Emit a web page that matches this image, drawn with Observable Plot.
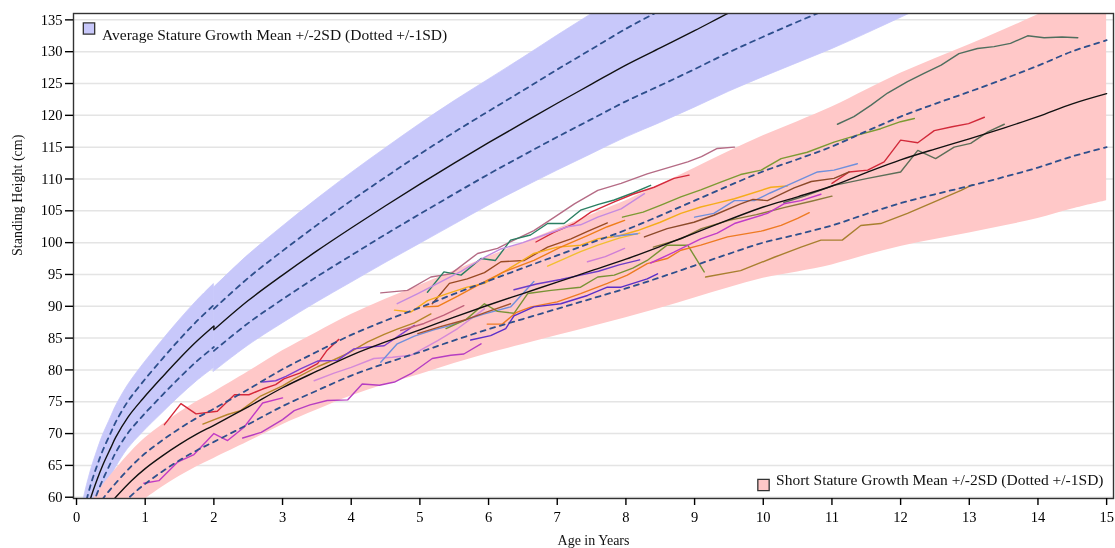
<!DOCTYPE html>
<html>
<head>
<meta charset="utf-8">
<script src="https://cdn.jsdelivr.net/npm/d3@7"></script>
<script src="https://cdn.jsdelivr.net/npm/@observablehq/plot@0.6"></script>
<style>
  html, body { margin: 0; padding: 0; background: #fff; }
  #chart { width: 1115px; height: 548px; overflow: hidden; }
  #chart svg { font-family: "Liberation Serif", "Times New Roman", serif; }
</style>
</head>
<body>
<div id="chart"></div>
<script>
// ---- Reference growth curves: average stature (the step at age 2 is the
// switch from recumbent length to standing height) ----
const avgAge  = [0.0, 0.1, 0.21, 0.3, 0.38, 0.5, 0.57, 0.75, 0.96, 1.25, 1.5, 1.75, 2.0, 2.0, 2.5, 3, 3.5, 4, 4.5, 5, 5.5, 6, 6.5, 7, 7.5, 8, 8.5, 9, 9.5, 10, 10.5, 11, 11.5, 12, 12.5, 13];
const avgMean = [50.0, 55.5, 60.0, 62.8, 65.0, 67.8, 69.4, 72.6, 75.4, 78.9, 81.8, 84.5, 86.9, 86.3, 90.9, 94.9, 98.7, 102.3, 105.8, 109.2, 112.5, 115.7, 118.8, 121.9, 124.9, 127.9, 130.6, 133.3, 136.1, 138.7, 141.2, 143.6, 146.2, 148.9, 151.6, 154.5];
const avgSD   = [1.9, 2.0, 2.1, 2.2, 2.3, 2.35, 2.4, 2.5, 2.65, 2.85, 3.0, 3.15, 3.3, 3.3, 3.55, 3.8, 4.05, 4.3, 4.5, 4.7, 4.85, 4.95, 5.1, 5.3, 5.5, 5.7, 5.9, 6.05, 6.2, 6.35, 6.5, 6.6, 6.7, 6.8, 6.9, 7.0];
// 0 = length (under 2 years), 1 = standing height
const avgPhase = [0, 0, 0, 0, 0, 0, 0, 0, 0, 0, 0, 0, 0, 1, 1, 1, 1, 1, 1, 1, 1, 1, 1, 1, 1, 1, 1, 1, 1, 1, 1, 1, 1, 1, 1, 1];

// ---- Short stature growth curves ----
const shortAge  = [0.2, 0.4, 0.57, 0.8, 1.0, 1.25, 1.5, 1.75, 2.0, 2.5, 3.0, 3.5, 4.0, 4.5, 5.0, 5.5, 6.0, 6.5, 7.0, 7.5, 8.0, 8.5, 9.0, 9.5, 10.0, 10.5, 11.0, 11.5, 12.0, 12.5, 13.0, 13.5, 14.0, 14.5, 15.0];
const shortMean = [55.0, 57.9, 60.0, 62.6, 64.5, 66.5, 68.3, 69.9, 71.3, 74.2, 77.2, 79.8, 82.3, 84.4, 86.3, 88.3, 90.2, 92.0, 93.8, 95.6, 97.4, 99.4, 101.5, 103.6, 105.6, 107.2, 108.9, 111.0, 113.0, 114.7, 116.3, 118.0, 119.8, 121.8, 123.4];
const shortSD   = [2.0, 2.1, 2.2, 2.3, 2.4, 2.45, 2.5, 2.55, 2.6, 2.75, 2.9, 3.05, 3.2, 3.35, 3.5, 3.65, 3.8, 4.0, 4.2, 4.4, 4.6, 4.85, 5.1, 5.35, 5.6, 5.9, 6.2, 6.5, 6.8, 7.1, 7.4, 7.7, 8.0, 8.25, 8.4];

// ---- Individual patient measurements: [age in years, height in cm] ----
const pA  = [[1.28,71.4],[1.52,74.7],[1.74,73.1],[2.05,73.5],[2.3,76.1],[2.51,76.1],[2.71,77.0],[2.9,77.7],[3.02,78.6],[3.25,79.5],[3.51,81.0],[3.65,83.1],[3.82,84.8]];
const pB  = [[0.98,62.2],[1.2,62.6],[1.47,65.5],[1.71,66.7],[2.0,70.0],[2.2,68.9],[2.44,71.0],[2.71,74.8],[3.0,75.6]];
const pC  = [[2.42,69.3],[2.69,70.2],[3.0,72.2],[3.17,73.6],[3.4,74.5],[3.65,75.2],[3.95,75.3],[4.16,77.8],[4.41,77.6],[4.63,78.1],[4.87,79.4],[5.18,81.8],[5.45,82.3],[5.64,82.5],[5.89,84.1]];
const pD  = [[1.84,71.5],[1.96,72.0],[2.2,73.0],[2.39,73.6],[2.68,75.9],[3.0,77.5],[3.17,78.6],[3.51,80.5],[3.75,81.6],[3.95,82.6],[4.24,84.4],[4.48,85.6],[4.67,86.4],[4.92,87.4],[5.16,88.8]];
const pE  = [[2.71,78.1],[2.9,78.3],[3.05,79.0],[3.27,80.2],[3.51,81.4],[3.8,81.5],[4.04,83.3],[4.25,83.6],[4.48,83.8],[4.67,85.2],[4.92,87.0]];
const pF  = [[3.46,78.3],[3.75,79.5],[4.0,80.4],[4.33,81.8],[4.6,82.0],[4.87,82.3],[5.26,84.6],[5.55,86.5],[5.94,89.6]];
const pG  = [[4.43,92.1],[4.82,92.5],[5.16,94.6],[5.45,95.1],[5.84,98.3],[6.13,99.1],[6.37,100.4],[6.66,101.9],[6.96,104.0],[7.25,106.1],[7.59,108.2],[7.93,109.3],[8.31,110.8],[8.9,112.7],[9.1,113.5],[9.33,114.8],[9.58,115.0]];
const pH  = [[5.11,92.2],[5.35,95.4],[5.6,94.9],[5.89,97.5],[6.1,97.2],[6.32,100.4],[6.61,101.2],[6.86,103.0],[7.1,103.0],[7.34,105.1],[7.6,106.0],[7.83,106.7],[8.1,107.8],[8.36,109.0]];
const pI  = [[6.69,100.1],[6.95,101.6],[7.25,103.0],[7.49,104.8],[7.83,106.4],[8.1,107.6],[8.41,108.7],[8.7,110.1],[8.92,110.6]];
const pJ  = [[4.67,90.4],[4.97,92.0],[5.26,93.6],[5.6,95.5],[5.94,97.7],[6.18,99.0],[6.5,100.0],[6.86,101.4],[7.15,102.5],[7.34,102.8],[7.59,104.0],[7.93,105.3],[8.27,107.7]];
const pK  = [[5.18,90.4],[5.43,93.6],[5.69,94.3],[5.94,95.3],[6.18,97.0],[6.52,97.2],[6.86,99.3],[7.2,100.6],[7.45,101.8],[7.73,103.1]];
const pL  = [[4.63,89.4],[4.87,89.1],[5.11,90.9],[5.4,92.0],[5.69,93.0],[5.94,93.6],[6.37,96.4],[6.66,98.3],[7.0,99.3],[7.34,99.6],[7.59,100.6],[7.88,101.0],[8.17,101.9],[8.5,103.2],[8.8,104.6],[9.09,105.6],[9.28,106.1],[9.58,106.9],[10.11,108.7],[10.35,108.9]];
const pM  = [[6.86,96.3],[7.15,97.7],[7.34,98.6],[7.59,99.6],[7.9,100.7],[8.2,101.5]];
const pN  = [[5.06,89.9],[5.26,90.0],[5.55,91.6],[5.84,93.3],[6.2,95.3],[6.66,97.2],[7.05,99.3],[7.44,101.1],[7.73,102.5],[7.98,103.5]];
const pO  = [[7.95,104.0],[8.25,104.8],[8.51,105.9],[8.8,107.2],[9.09,108.3],[9.38,109.5],[9.67,110.7],[9.97,111.4],[10.26,113.2],[10.64,114.2],[11.03,115.8],[11.37,116.9],[11.71,117.9],[12.0,119.0],[12.2,119.5]];
const pP  = [[11.08,118.6],[11.32,119.8],[11.57,121.6],[11.81,123.5],[12.1,125.3],[12.34,126.6],[12.59,127.9],[12.85,129.7],[13.12,130.5],[13.36,130.8],[13.6,131.3],[13.85,132.5],[14.09,132.2],[14.35,132.3],[14.58,132.2]];
const pQ  = [[10.3,106.3],[10.6,107.3],[11.03,109.0],[11.52,110.1],[12.0,111.1],[12.25,114.5],[12.51,113.2],[12.78,115.0],[13.02,115.6],[13.27,117.4],[13.51,118.6]];
const pR  = [[11.0,109.3],[11.25,111.1],[11.52,111.4],[11.76,112.7],[12.0,116.1],[12.25,115.7],[12.49,117.6],[12.75,118.2],[12.99,118.7],[13.22,119.7]];
const pS1 = [[4.43,81.2],[4.67,84.1],[4.92,85.3],[5.2,86.3],[5.45,87.0],[5.7,88.0],[5.94,88.8],[6.32,89.9],[6.66,93.9]];
const pS2 = [[9.0,104.0],[9.28,104.6],[9.58,106.6],[9.87,106.6],[10.1,107.8],[10.35,109.0],[10.79,111.1],[11.03,111.4],[11.37,112.4]];
const pS3 = [[7.83,101.0],[8.17,101.4]];
const pT  = [[5.38,86.5],[5.67,87.9],[5.94,90.4],[6.13,89.2],[6.37,88.9],[6.57,92.0],[6.91,92.5],[7.34,93.0],[7.59,94.6],[7.83,94.9],[8.1,96.0],[8.31,97.2],[8.6,99.6],[8.9,99.6],[9.14,95.4]];
const pU  = [[9.16,94.6],[9.67,95.6],[10.16,97.7],[10.55,99.3],[10.84,100.4],[11.15,100.4],[11.42,102.7],[11.71,103.0],[12.1,104.6],[12.49,106.4],[12.88,108.2],[13.05,109.1]];
const pV  = [[5.98,87.2],[6.2,87.2],[6.4,89.0],[6.62,89.9],[7.0,90.7],[7.34,92.0],[7.73,93.6],[8.02,94.9],[8.31,96.7],[8.6,97.5],[8.8,98.8],[9.09,99.6],[9.48,100.9],[9.97,101.8],[10.26,102.7],[10.5,103.8],[10.67,104.7]];
const pW  = [[5.74,84.7],[6.03,85.4],[6.25,86.5],[6.37,88.5],[6.66,89.9],[7.05,90.4],[7.44,91.7],[7.73,93.0],[7.93,93.0],[8.31,94.3],[8.46,95.1]];
const pX  = [[4.72,86.2],[5.06,87.3],[5.35,88.6],[5.64,90.1]];
const pY  = [[4.97,85.7],[5.3,86.8],[5.64,87.8],[6.0,89.2],[6.32,90.4]];
const pZ  = [[6.37,92.6],[6.7,93.5],[7.05,94.2],[7.34,94.9],[7.6,95.5],[7.9,96.5],[8.2,97.3]];
const pZ2 = [[7.44,97.0],[7.7,97.8],[7.98,99.1]];
const pK2 = [[8.27,100.9],[8.6,102.2],[8.99,103.2],[9.28,104.3],[9.67,106.1],[9.85,106.8],[10.06,106.6],[10.45,108.6],[10.7,109.6],[11.03,110.1],[11.25,111.1]];
const pK3 = [[8.4,99.3],[8.8,100.6],[9.1,102.2],[9.5,103.5],[9.9,104.4],[10.3,105.5],[10.7,106.5],[11.0,107.3]];
const pM2 = [[8.36,96.8],[8.7,98.5],[9.09,100.6],[9.33,101.5],[9.58,103.0],[10.06,104.6],[10.3,106.1],[10.55,106.6],[10.84,107.6]];

const patientSeries = [pA, pB, pC, pD, pE, pF, pG, pH, pI, pJ, pK, pL, pM, pN, pO, pP, pQ, pR, pS1, pS2, pS3, pT, pU, pV, pW, pX, pY, pZ, pZ2, pK2, pK3, pM2];
const patientColors = ["#d62839", "#c23bc4", "#b63ec2", "#b5852a", "#7e3fd0", "#d58ad8", "#b56b85", "#2a7f62", "#d42a3c", "#c58ae0", "#9a4a22", "#f5ac1a", "#f2be30", "#ef7d1a", "#7c9a32", "#4f6e5e", "#5d6e58", "#d22a3a", "#6f8fdc", "#6f8fdc", "#6f8fdc", "#789234", "#a87f2f", "#ee7a22", "#5b2fc9", "#c0607a", "#a0522d", "#6d3cc8", "#cf7fd6", "#8c4a2a", "#8c7a3c", "#c03cc8"];

// Axis ticks and legend text
const yTicks = d3.range(60, 136, 5);
const xTicks = d3.range(0, 16, 1);
const avgLegend = "Average Stature Growth Mean +/-2SD (Dotted +/-1SD)";
const shortLegend = "Short Stature Growth Mean +/-2SD (Dotted +/-1SD)";
const xTitle = "Age in Years";
const yTitle = "Standing Height (cm)";

// Build band tables (mean, ±1SD, ±2SD) from the curve arrays
const band = (ages, means, sds, phases) => ages.map((a, i) => ({
  age: a, phase: phases ? phases[i] : 0, mean: means[i],
  lo1: means[i] - sds[i], hi1: means[i] + sds[i],
  lo2: means[i] - 2 * sds[i], hi2: means[i] + 2 * sds[i]
}));
const avgRows = band(avgAge, avgMean, avgSD, avgPhase);
const shortRows = band(shortAge, shortMean, shortSD);

// the vertical drop of the average mean where length switches to height
const lastLength = avgRows.filter(d => d.phase === 0).pop();
const firstHeight = avgRows.find(d => d.phase === 1);
const meanStep = [{x1: lastLength.age, y1: lastLength.mean, x2: firstHeight.age, y2: firstHeight.mean}];

const smooth = "catmull-rom";
const blueFill = "#c8c8fa";
const pinkFill = "#ffc8c8";
const dashStyle = {z: "phase", curve: smooth, stroke: "#2e4f8c", strokeWidth: 1.8, strokeDasharray: "5,5", clip: true};
const meanStyle = {z: "phase", curve: smooth, stroke: "#111", strokeWidth: 1.4, clip: true};

const patientMarks = patientSeries.map((s, i) =>
  Plot.line(s, {x: d => d[0], y: d => d[1], stroke: patientColors[i], strokeWidth: 1.4, clip: true})
);

const chart = Plot.plot({
  width: 1115,
  height: 548,
  marginLeft: 73,
  marginRight: 2,
  marginTop: 13,
  marginBottom: 50,
  style: {fontFamily: "Liberation Serif, Times New Roman, serif", fontSize: "14.5px", background: "#fff", color: "#000"},
  x: {domain: [-0.044, 15.10]},
  y: {domain: [59.8, 136.0]},
  marks: [
    Plot.gridY(yTicks, {stroke: "#d8d8d8", strokeOpacity: 0.7, strokeWidth: 1.5}),
    // average stature band (thin same-colour stroke closes the seam at age 2)
    Plot.areaY(avgRows, {x: "age", y1: "lo2", y2: "hi2", z: "phase", curve: smooth, fill: blueFill, stroke: blueFill, strokeWidth: 0.8, clip: true}),
    // short stature band (multiplied where it overlaps the average band)
    Plot.areaY(shortRows, {x: "age", y1: "lo2", y2: "hi2", curve: smooth, fill: pinkFill, mixBlendMode: "multiply", clip: true}),
    Plot.lineY(avgRows, {x: "age", y: "hi1", ...dashStyle}),
    Plot.lineY(avgRows, {x: "age", y: "lo1", ...dashStyle}),
    Plot.lineY(avgRows, {x: "age", y: "mean", ...meanStyle}),
    Plot.link(meanStep, {x1: "x1", y1: "y1", x2: "x2", y2: "y2", stroke: "#111", strokeWidth: 1.4}),
    ...patientMarks,
    Plot.lineY(shortRows, {x: "age", y: "hi1", ...dashStyle}),
    Plot.lineY(shortRows, {x: "age", y: "lo1", ...dashStyle}),
    Plot.lineY(shortRows, {x: "age", y: "mean", ...meanStyle}),
    Plot.frame({stroke: "#333", strokeWidth: 1.4}),
    Plot.axisY(yTicks, {tickSize: 8, tickPadding: 3, label: null, fontSize: 14.5, strokeWidth: 1.4}),
    Plot.axisX(xTicks, {tickSize: 7, tickPadding: 6, label: null, fontSize: 14.5, strokeWidth: 1.4}),
    // legends
    Plot.dot([0], {frameAnchor: "top-left", dx: 15.5, dy: 15, symbol: "square", r: 6.4, fill: blueFill, stroke: "#333", strokeWidth: 1.3}),
    Plot.text([avgLegend], {frameAnchor: "top-left", dx: 28.5, dy: 15, text: d => d, textAnchor: "start", fontSize: 15.5, fill: "#111"}),
    Plot.dot([0], {frameAnchor: "bottom-right", dx: -350, dy: -13.5, symbol: "square", r: 6.4, fill: pinkFill, stroke: "#333", strokeWidth: 1.3}),
    Plot.text([shortLegend], {frameAnchor: "bottom-right", dx: -10, dy: -13.5, text: d => d, textAnchor: "end", fontSize: 15.5, fill: "#111"}),
    // axis titles
    Plot.text([xTitle], {frameAnchor: "bottom", dy: 46.5, text: d => d, fontSize: 14, fill: "#111"}),
    Plot.text([yTitle], {frameAnchor: "left", dx: -56, text: d => d, rotate: -90, fontSize: 14, fill: "#111"})
  ]
});

document.getElementById("chart").append(chart);
</script>
</body>
</html>
